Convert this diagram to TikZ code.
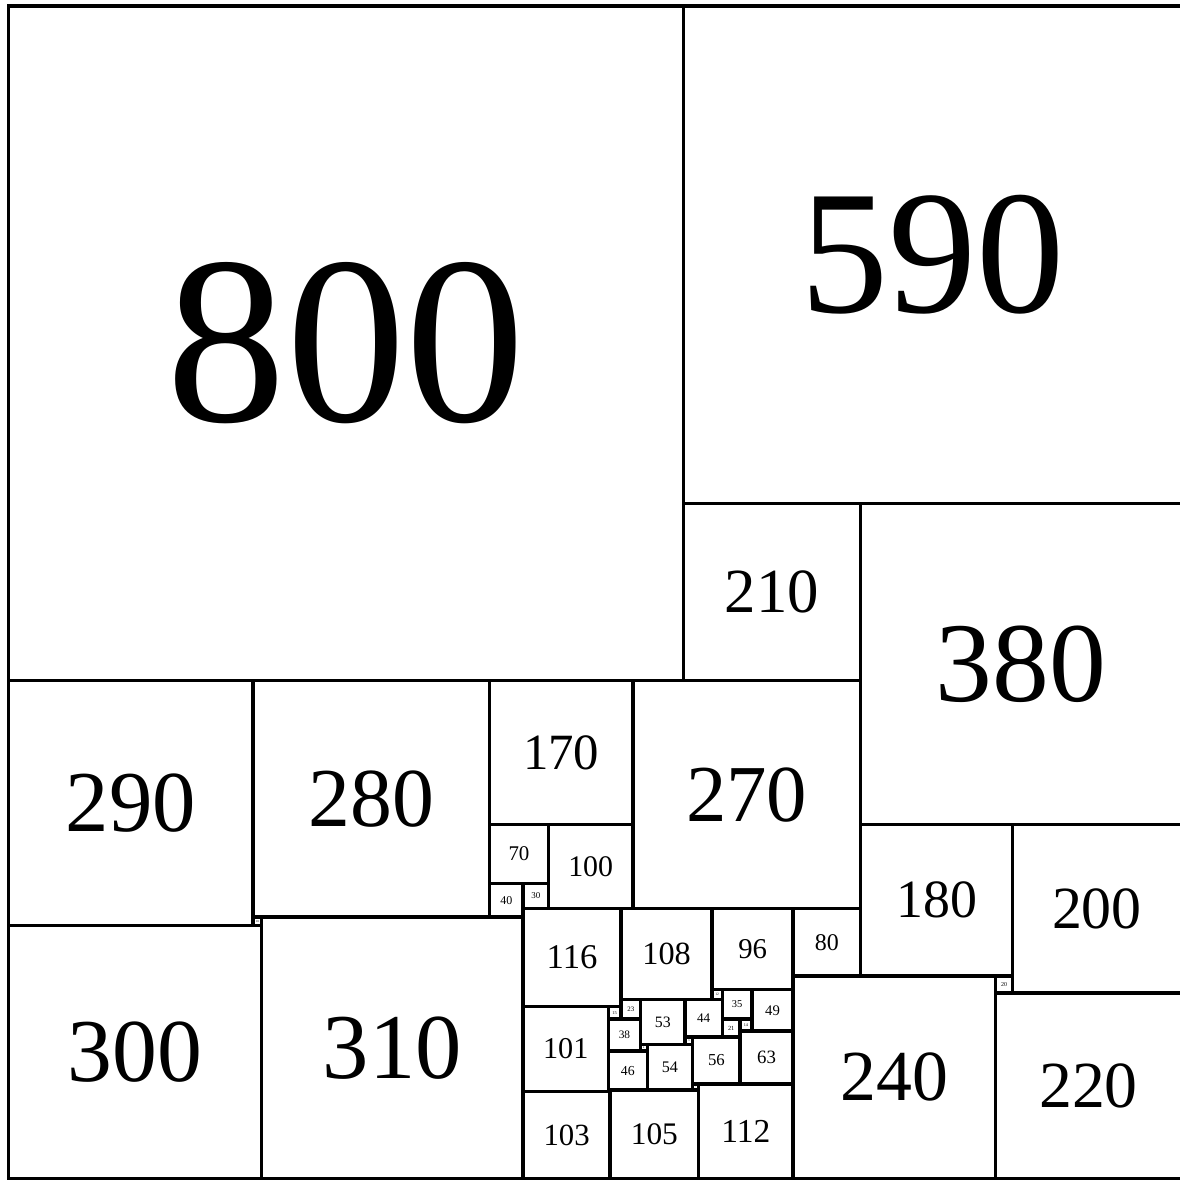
\documentclass[tikz,border=0pt]{standalone}
\usepackage{fontspec}
\setmainfont{Liberation Serif}
\tikzset{
  tile/.style={draw=black, line width=1.15pt, rectangle, inner sep=0pt, outer sep=0pt, fill=none}
}
\newcommand\tile[3]{%
  \pgfmathsetmacro\tfs{0.1008*#3}%
  \node[tile, minimum size=#3*0.01cm, font=\fontsize{\tfs pt}{\tfs pt}\selectfont] (t#3) at ({#1+#3/2},{#2+#3/2}) {#3};%
}
\begin{document}
\begin{tikzpicture}[x=0.01cm,y=-0.01cm]
\useasboundingbox (-10.1,-6.9) rectangle (1387.8,1391.7);
\tile{0}{0}{800}
\tile{800}{0}{590}
\tile{800}{590}{210}
\tile{1010}{590}{380}
\tile{0}{800}{290}
\tile{290}{800}{280}
\tile{570}{800}{170}
\tile{740}{800}{270}
\tile{570}{970}{70}
\tile{640}{970}{100}
\tile{1010}{970}{180}
\tile{1190}{970}{200}
\tile{570}{1040}{40}
\tile{610}{1040}{30}
\tile{610}{1070}{116}
\tile{726}{1070}{108}
\tile{834}{1070}{96}
\tile{930}{1070}{80}
\tile{290}{1080}{10}
\tile{300}{1080}{310}
\tile{0}{1090}{300}
\tile{1170}{1150}{20}
\tile{930}{1150}{240}
\tile{834}{1166}{12}
\tile{846}{1166}{35}
\tile{881}{1166}{49}
\tile{1170}{1170}{220}
\tile{726}{1178}{23}
\tile{749}{1178}{53}
\tile{802}{1178}{44}
\tile{711}{1186}{15}
\tile{610}{1186}{101}
\tile{711}{1201}{38}
\tile{846}{1201}{21}
\tile{867}{1201}{14}
\tile{867}{1215}{63}
\tile{802}{1222}{9}
\tile{811}{1222}{56}
\tile{749}{1231}{8}
\tile{757}{1231}{54}
\tile{711}{1239}{46}
\tile{818}{1278}{112}
\tile{811}{1278}{7}
\tile{711}{1285}{2}
\tile{713}{1285}{105}
\tile{610}{1287}{103}
\end{tikzpicture}
\end{document}
